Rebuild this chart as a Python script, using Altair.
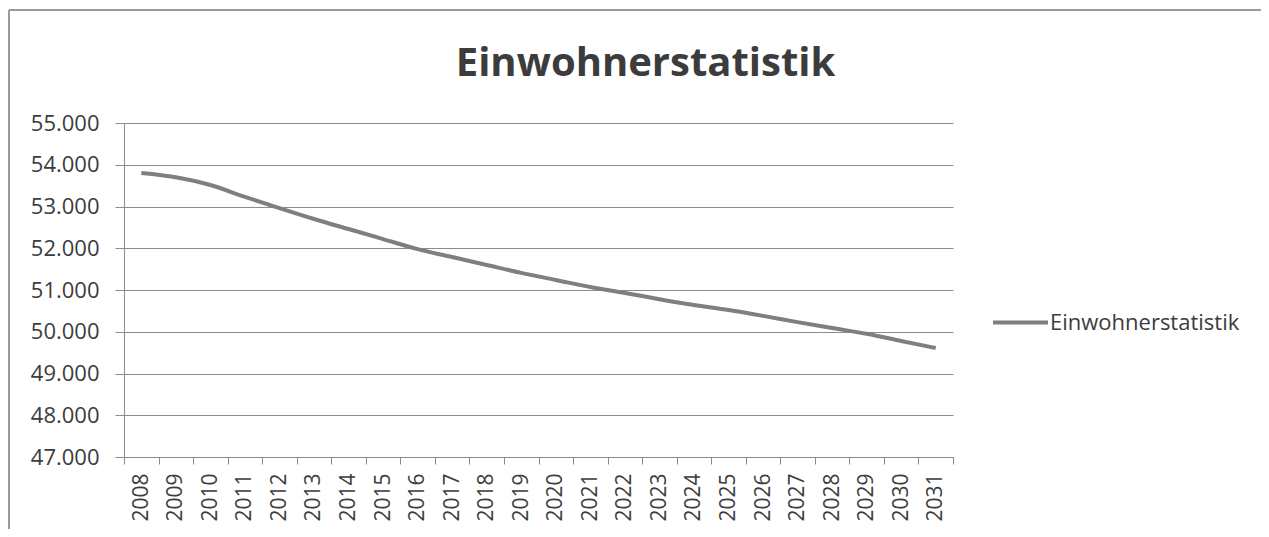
import altair as alt
import pandas as pd

years = [str(y) for y in range(2008, 2032)]
einwohner = [53800, 53700, 53515, 53230, 52960, 52700, 52460, 52220, 51980, 51790,
             51600, 51410, 51240, 51070, 50930, 50780, 50640, 50520, 50380, 50230,
             50090, 49950, 49780, 49610]
series_name = "Einwohnerstatistik"
y_ticks = [47000, 48000, 49000, 50000, 51000, 52000, 53000, 54000, 55000]

df = pd.DataFrame({"Jahr": years, "Einwohner": einwohner, "Serie": [series_name] * len(years)})

TXT = "#3c3c3c"
GRID = "#8c8c8c"
FONT = "Open Sans"

line = alt.Chart(df).mark_line(strokeWidth=4, interpolate="monotone").encode(
    x=alt.X("Jahr:O", title=None,
            scale=alt.Scale(type="band", paddingInner=0, paddingOuter=0),
            axis=alt.Axis(labelAngle=270, labelFontSize=21, labelFont=FONT, labelColor=TXT,
                          tickBand="extent", tickSize=7, tickColor=GRID, domainColor=GRID,
                          labelPadding=9, grid=False, labelBaseline="middle")),
    y=alt.Y("Einwohner:Q", title=None,
            scale=alt.Scale(domain=[47000, 55000], nice=False, zero=False),
            axis=alt.Axis(values=y_ticks, labelFontSize=22, labelFont=FONT, labelColor=TXT,
                          labelExpr="replace(format(datum.value, ',d'), ',', '.')",
                          tickSize=9, tickColor=GRID, domainColor=GRID, gridColor=GRID,
                          gridWidth=1, labelPadding=16)),
    color=alt.Color("Serie:N", title=None,
                    scale=alt.Scale(domain=[series_name], range=["#7f7f7f"]),
                    legend=alt.Legend(orient="none", legendX=867, legendY=170,
                                      symbolType="stroke", symbolSize=3025,
                                      symbolStrokeWidth=4, labelFontSize=22,
                                      labelFont=FONT, labelColor=TXT, labelOffset=0,
                                      labelLimit=400, padding=0)),
)

frame_left = alt.Chart(df).mark_rule(color="#9a9a9a", strokeWidth=1.5).encode(
    x=alt.value(-115), y=alt.value(-113), y2=alt.value(410))
frame_top = alt.Chart(df).mark_rule(color="#9a9a9a", strokeWidth=1.5).encode(
    x=alt.value(-115), x2=alt.value(1140), y=alt.value(-113))

chart = alt.layer(frame_left, frame_top, line).properties(
    width=829, height=334,
    autosize="none",
    padding={"left": 116, "top": 115, "right": 308, "bottom": 72},
    title=alt.TitleParams(series_name, fontSize=40, font=FONT, fontWeight="bold",
                          color=TXT, anchor="middle", dx=107, offset=-107,
                          baseline="alphabetic"),
).configure_view(stroke=None)

chart.save("out.html", embed_options={"renderer": "svg", "actions": False})
